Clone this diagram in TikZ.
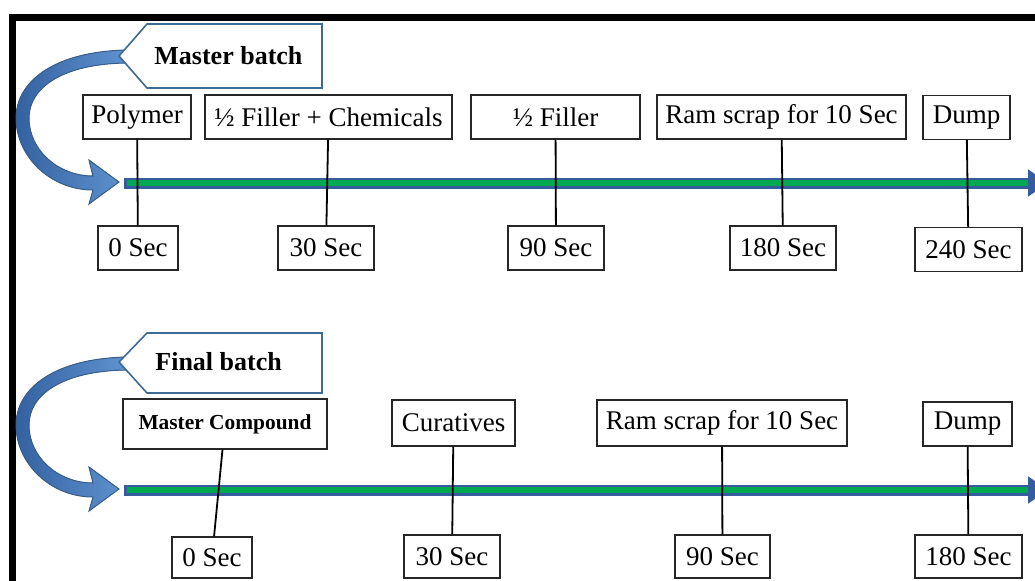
\documentclass[tikz,border=0pt]{standalone}
\usepackage{fontspec}
\setmainfont{Liberation Serif}
\usetikzlibrary{arrows.meta}

\definecolor{arrowlight}{RGB}{96,146,208}
\definecolor{arrowdark}{RGB}{52,98,160}
\definecolor{arrowline}{RGB}{56,93,138}
\definecolor{calloutline}{RGB}{62,106,150}
\definecolor{tlgreen}{RGB}{0,168,80}
\definecolor{tlblue}{RGB}{52,92,158}

\tikzset{
    stepbox/.style={draw=black!85, line width=0.7pt, fill=white, inner sep=1pt,
        font=\fontsize{13.5}{16}\selectfont, minimum height=22pt},
    timebox/.style={stepbox},
    batchlabel/.style={font=\fontsize{13}{16}\selectfont\bfseries, anchor=west, inner sep=0pt},
    callout/.style={draw=calloutline, line width=0.8pt, fill=white},
    bentarrow/.style={draw=arrowline, line width=0.5pt, left color=arrowdark, right color=arrowlight},
    tick/.style={line width=0.9pt, black},
}

\begin{document}
\begin{tikzpicture}[x=0.5pt, y=-0.5pt]
    \useasboundingbox (0,0) rectangle (1035,580);
    \clip (0,0) rectangle (1035,580);

    % frame
    \draw[line width=3.5pt] (12.5,620) -- (12.5,17) -- (1060,17);

    % ---------------- master batch ----------------
    \filldraw[bentarrow] (126,50) .. controls (50,52) and (16,84) .. (16,118)
        .. controls (16,156) and (50,190) .. (93,190) -- (89,204) -- (119,182)
        -- (89,160) -- (93,176) .. controls (58,176) and (29,150) .. (29,118)
        .. controls (29,88) and (62,64) .. (126,63) -- cycle;
    \filldraw[callout] (119,56) -- (147,24) -- (322,24) -- (322,88) -- (147,88) -- cycle;
    \node[batchlabel] (mb) at (154,56) {Master batch};

    \coordinate (mstart) at (124,183);
    \coordinate (mend) at (1048,183);
    \coordinate (mgreen) at (1028,183);
    \draw[tlblue, line width=5.5pt, -{Triangle[width=13pt, length=10pt]}] (mstart) -- (mend);
    \draw[tlgreen, line width=2.6pt] ([xshift=1.5pt]mstart) -- (mgreen);

    \node[stepbox, minimum width=54pt] (poly) at (137,117) {Polymer};
    \node[stepbox, minimum width=123.5pt] (fillchem) at (328.5,117) {½ Filler + Chemicals};
    \node[stepbox, minimum width=84.5pt] (filler) at (555.5,117) {½ Filler};
    \node[stepbox, minimum width=124.5pt] (ram) at (781.5,117) {Ram scrap for 10 Sec};
    \node[stepbox, minimum width=43.5pt] (dump) at (966.5,117.5) {Dump};

    \node[timebox, minimum width=40pt] (t0) at (138,248) {0 Sec};
    \node[timebox, minimum width=48pt] (t30) at (326,248) {30 Sec};
    \node[timebox, minimum width=48pt] (t90) at (556,248) {90 Sec};
    \node[timebox, minimum width=53pt] (t180) at (783,248) {180 Sec};
    \node[timebox, minimum width=53.5pt] (t240) at (968.5,249.5) {240 Sec};

    \draw[tick] (poly) -- (t0);
    \draw[tick] (fillchem) -- (t30);
    \draw[tick] (filler) -- (t90);
    \draw[tick] (ram) -- (t180);
    \draw[tick] (dump) -- (t240);

    % ---------------- final batch ----------------
    \begin{scope}[shift={(0,307)}]
        \filldraw[bentarrow] (126,50) .. controls (50,52) and (16,84) .. (16,118)
            .. controls (16,156) and (50,190) .. (93,190) -- (89,204) -- (119,182)
            -- (89,160) -- (93,176) .. controls (58,176) and (29,150) .. (29,118)
            .. controls (29,88) and (62,64) .. (126,63) -- cycle;
    \end{scope}
    \filldraw[callout] (119,362) -- (147,333) -- (322,333) -- (322,393) -- (147,393) -- cycle;
    \node[batchlabel] (fb) at (155,362) {Final batch};

    \coordinate (fstart) at (124,490);
    \coordinate (fend) at (1048,490);
    \coordinate (fgreen) at (1028,490);
    \draw[tlblue, line width=5.5pt, -{Triangle[width=13pt, length=10pt]}] (fstart) -- (fend);
    \draw[tlgreen, line width=2.6pt] ([xshift=1.5pt]fstart) -- (fgreen);

    \node[stepbox, minimum width=102pt, minimum height=25pt,
        font=\fontsize{10.7}{13}\selectfont\bfseries] (mcomp) at (225,424) {Master Compound};
    \node[stepbox, minimum width=61.5pt, minimum height=23pt] (cur) at (453.5,423) {Curatives};
    \node[stepbox, minimum width=125pt, minimum height=23pt] (ramb) at (722,423) {Ram scrap for 10 Sec};
    \node[stepbox, minimum width=44.5pt] (dumpb) at (967.5,424) {Dump};

    \node[timebox, minimum width=40pt, minimum height=20.5pt] (u0) at (212,557.5) {0 Sec};
    \node[timebox, minimum width=48pt, minimum height=21.5pt] (u30) at (452,556.5) {30 Sec};
    \node[timebox, minimum width=47.5pt, minimum height=21.5pt] (u90) at (722.5,556.5) {90 Sec};
    \node[timebox, minimum width=53.5pt, minimum height=21.5pt] (u180) at (968.5,556.5) {180 Sec};

    \draw[tick] (mcomp) -- (u0);
    \draw[tick] (cur) -- (u30);
    \draw[tick] (ramb) -- (u90);
    \draw[tick] (dumpb) -- (u180);

\end{tikzpicture}
\end{document}
